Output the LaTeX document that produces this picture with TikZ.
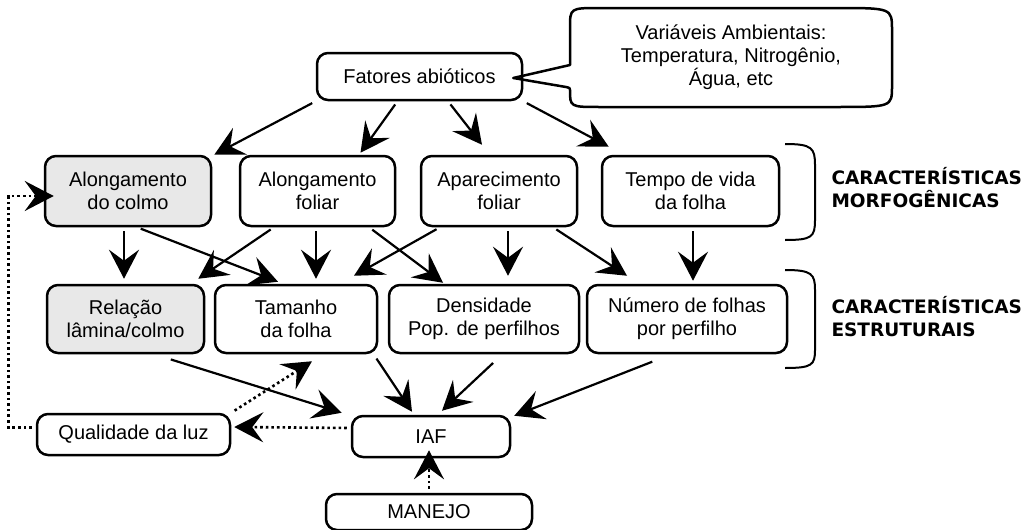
\documentclass[tikz,border=0pt]{standalone}
\usepackage{fontspec}
\setmainfont{Liberation Sans}
\newfontfamily\labelfont{DejaVu Sans}
\usetikzlibrary{arrows.meta,calc}

\definecolor{boxgray}{HTML}{E8E8E8}

\tikzset{
  box/.style={draw, line width=2.5pt, rounded corners=11pt, align=center,
    inner sep=0pt, font=\fontsize{20}{23}\selectfont},
  graybox/.style={box, fill=boxgray},
  link/.style={line width=2.2pt, -{Stealth[length=29pt,width=30pt,inset=11pt]},
    shorten <=4pt},
  dotlink/.style={link, line width=2.6pt, dash pattern=on 2.6pt off 3pt},
  bracket/.style={line width=2pt},
  sidelabel/.style={anchor=west, align=left,
    font=\labelfont\bfseries\fontsize{18.5}{23}\selectfont},
}

\begin{document}
\begin{tikzpicture}[x=1pt, y=-1pt]
  \useasboundingbox (0,0) rectangle (1028,530);

  % Abiotic factors
  \node[box, minimum width=205pt, minimum height=47pt] (fat) at (419.5,76.5) {Fatores abióticos};

  % Note on the environment
  \node[align=center, inner sep=0pt, minimum width=322pt, minimum height=99pt,
    font=\fontsize{20}{23}\selectfont] (var) at (731,57.5)
    {Variáveis Ambientais:\\Temperatura, Nitrogênio,\\Água, etc};
  \draw[line width=2.5pt, line join=round] ($(fat.east)+(-10,1.5)$) -- (570,65) -- (570,28)
    .. controls (570,8) .. (600,8) -- (835,8) .. controls (892,8) .. (892,30)
    -- (892,86) .. controls (892,107) .. (835,107) -- (600,107)
    .. controls (570,107) .. (570,90) .. controls (570,88) .. (566,87) -- cycle;

  % Morphogenic characteristics
  \node[graybox, minimum width=166pt, minimum height=70pt] (colmo) at (128,191) {Alongamento\\do colmo};
  \node[box, minimum width=155pt, minimum height=70pt] (afol) at (317.5,191) {Alongamento\\foliar};
  \node[box, minimum width=156pt, minimum height=70pt] (apar) at (499,191) {Aparecimento\\foliar};
  \node[box, minimum width=177pt, minimum height=70pt] (tempo) at (690.5,191) {Tempo de vida\\da folha};

  % Structural characteristics
  \node[graybox, minimum width=157pt, minimum height=68pt] (rel) at (125.5,319) {Relação\\lâmina/colmo};
  \node[box, minimum width=162pt, minimum height=68pt] (tam) at (296,319) {Tamanho\\da folha};
  \node[box, minimum width=190pt, minimum height=68pt] (dens) at (484,319) {Densidade\\Pop. de perfilhos};
  \node[box, minimum width=200pt, minimum height=68pt] (num) at (687,319) {Número de folhas\\por perfilho};

  % Bottom row
  \node[box, minimum width=193pt, minimum height=41pt] (qual) at (133.5,434.5) {Qualidade da luz};
  \node[box, minimum width=158pt, minimum height=41pt] (iaf) at (431,436.5) {IAF};
  \node[box, minimum width=206pt, minimum height=36pt] (manejo) at (429,512) {MANEJO};

  % Brackets and their labels
  \draw[bracket] (785,144) .. controls (812,144) and (815,148) .. (815,165) -- (815,220)
    .. controls (815,237) and (812,240) .. (785,240);
  \draw[bracket] (785,270) .. controls (812,270) and (815,274) .. (815,290) -- (815,350)
    .. controls (815,365) and (812,368) .. (785,368);
  \node[sidelabel] (morf) at (828,188) {CARACTERÍSTICAS\\MORFOGÊNICAS};
  \node[sidelabel] (estr) at (828,317) {CARACTERÍSTICAS\\ESTRUTURAIS};

  % Abiotic factors -> morphogenic
  \draw[link] (fat.south west) -- ($(colmo.north east)+(2,0)$);
  \draw[link] ($(fat.south)+(-22,0)$) -- ($(afol.north)+(43,-2)$);
  \draw[link] ($(fat.south)+(28.5,0)$) -- ($(apar.north)+(-17,-10)$);
  \draw[link] (fat.south east) -- ($(tempo.north west)+(8,-8)$);

  % Morphogenic -> structural
  \draw[link] ($(colmo.south)+(-4,0)$) -- ($(rel.north)+(-1.5,-5)$);
  \draw[link] ($(colmo.south)+(9,0)$) -- ($(tam.north)+(-18,-2)$);
  \draw[link] ($(afol.south)+(-43.5,0)$) -- ($(rel.north east)+(-7,-5)$);
  \draw[link] ($(afol.south)+(-1.5,0)$) -- ($(tam.north)+(20,-5)$);
  \draw[link] ($(afol.south)+(51.5,0)$) -- ($(dens.north)+(-41,-1)$);
  \draw[link] ($(apar.south)+(-59,0)$) -- ($(tam.north)+(58,-8)$);
  \draw[link] ($(apar.south)+(9,0)$) -- ($(dens.north)+(24,-8)$);
  \draw[link] ($(apar.south)+(54,0)$) -- ($(num.north)+(-60,-8)$);
  \draw[link] ($(tempo.south)+(2.5,0)$) -- ($(num.north)+(6,-3)$);

  % Structural -> IAF
  \draw[link] ($(rel.south)+(41.5,4)$) -- ($(iaf.north west)+(-9,-2)$);
  \draw[link] ($(tam.south east)+(-4,1)$) -- ($(iaf.north)+(-19,-3)$);
  \draw[link] ($(dens.south)+(12,6)$) -- ($(iaf.north)+(11,-4)$);
  \draw[link] ($(num.south)+(-31,6)$) -- ($(iaf.north east)+(3,1)$);

  % Light quality feedback
  \draw[dotlink] ($(iaf.west)+(0,-8.5)$) -- ($(qual.east)+(3,-7.5)$);
  \draw[dotlink] (qual.north east) -- ($(tam.south)+(16,7)$);
  \draw[dotlink] ($(qual.west)+(0,-7)$) -- ++(-27,0) |- ($(colmo.west)+(10,5)$);
  \draw[dotlink] (manejo.north) -- ($(iaf.south)+(-2,-8)$);

\end{tikzpicture}
\end{document}
